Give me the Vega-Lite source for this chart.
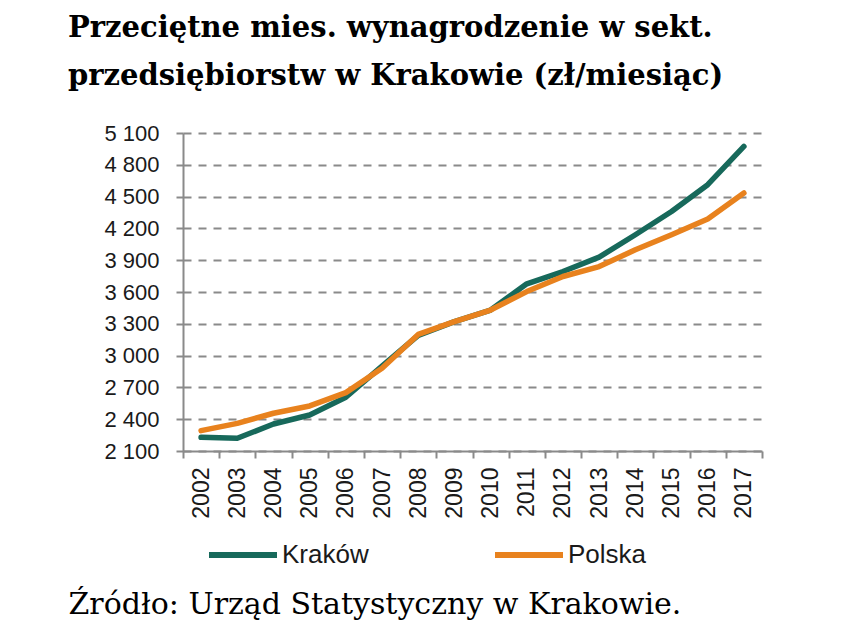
{
  "$schema": "https://vega.github.io/schema/vega-lite/v6.json",
  "width": 579,
  "height": 318,
  "autosize": {"type": "none"},
  "padding": {"left": 183, "top": 133, "right": 90, "bottom": 188},
  "background": "white",
  "title": {
    "text": ["Przeciętne mies. wynagrodzenie w sekt.", "przedsiębiorstw w Krakowie (zł/miesiąc)"],
    "anchor": "start",
    "frame": "group",
    "dx": -115,
    "offset": 31,
    "font": "DejaVu Serif",
    "fontWeight": "bold",
    "fontSize": 29,
    "lineHeight": 48,
    "color": "#000000"
  },
  "config": {"view": {"stroke": null}},
  "data": {
    "values": [
      {"year": "2002", "series": "Kraków", "value": 2229},
      {"year": "2003", "series": "Kraków", "value": 2220},
      {"year": "2004", "series": "Kraków", "value": 2355},
      {"year": "2005", "series": "Kraków", "value": 2440},
      {"year": "2006", "series": "Kraków", "value": 2607},
      {"year": "2007", "series": "Kraków", "value": 2900},
      {"year": "2008", "series": "Kraków", "value": 3190},
      {"year": "2009", "series": "Kraków", "value": 3320},
      {"year": "2010", "series": "Kraków", "value": 3430},
      {"year": "2011", "series": "Kraków", "value": 3677},
      {"year": "2012", "series": "Kraków", "value": 3793},
      {"year": "2013", "series": "Kraków", "value": 3929},
      {"year": "2014", "series": "Kraków", "value": 4140},
      {"year": "2015", "series": "Kraków", "value": 4360},
      {"year": "2016", "series": "Kraków", "value": 4612},
      {"year": "2017", "series": "Kraków", "value": 4973},
      {"year": "2002", "series": "Polska", "value": 2292},
      {"year": "2003", "series": "Polska", "value": 2361},
      {"year": "2004", "series": "Polska", "value": 2456},
      {"year": "2005", "series": "Polska", "value": 2525},
      {"year": "2006", "series": "Polska", "value": 2651},
      {"year": "2007", "series": "Polska", "value": 2880},
      {"year": "2008", "series": "Polska", "value": 3200},
      {"year": "2009", "series": "Polska", "value": 3320},
      {"year": "2010", "series": "Polska", "value": 3430},
      {"year": "2011", "series": "Polska", "value": 3604},
      {"year": "2012", "series": "Polska", "value": 3746},
      {"year": "2013", "series": "Polska", "value": 3840},
      {"year": "2014", "series": "Polska", "value": 3998},
      {"year": "2015", "series": "Polska", "value": 4140},
      {"year": "2016", "series": "Polska", "value": 4288},
      {"year": "2017", "series": "Polska", "value": 4534}
    ]
  },
  "mark": {"type": "line", "strokeWidth": 5.5, "strokeCap": "round", "strokeJoin": "round"},
  "encoding": {
    "x": {
      "field": "year",
      "type": "ordinal",
      "scale": {"paddingInner": 0, "paddingOuter": 0},
      "axis": {
        "title": "Źródło: Urząd Statystyczny w Krakowie.",
        "titleFont": "DejaVu Serif",
        "titleFontWeight": "normal",
        "titleFontSize": 30,
        "titleColor": "#000000",
        "titleAlign": "left",
        "titleBaseline": "alphabetic",
        "titleX": -115,
        "titleY": 162,
        "labelAngle": 270,
        "labelAlign": "right",
        "labelBaseline": "middle",
        "labelFont": "Liberation Sans",
        "labelFontSize": 23,
        "labelColor": "#1a1a1a",
        "labelPadding": 9,
        "tickBand": "extent",
        "tickSize": 7,
        "tickWidth": 2,
        "tickColor": "#8a8a8a",
        "domainColor": "#8a8a8a",
        "domainWidth": 2,
        "grid": false
      }
    },
    "y": {
      "field": "value",
      "type": "quantitative",
      "scale": {"domain": [2100, 5100], "nice": false, "zero": false},
      "axis": {
        "title": null,
        "values": [2100, 2400, 2700, 3000, 3300, 3600, 3900, 4200, 4500, 4800, 5100],
        "labelExpr": "replace(format(datum.value, ','), ',', ' ')",
        "labelFont": "Liberation Sans",
        "labelFontSize": 22,
        "labelColor": "#1a1a1a",
        "labelPadding": 17,
        "tickSize": 7,
        "tickWidth": 2,
        "tickColor": "#8a8a8a",
        "domainColor": "#8a8a8a",
        "domainWidth": 2,
        "grid": true,
        "gridColor": "#8a8a8a",
        "gridWidth": 2,
        "gridDash": [8, 7]
      }
    },
    "color": {
      "field": "series",
      "type": "nominal",
      "scale": {"domain": ["Kraków", "Polska"], "range": ["#17695b", "#e8821e"]},
      "legend": {
        "title": null,
        "orient": "none",
        "legendX": 23,
        "legendY": 385,
        "direction": "horizontal",
        "columns": 2,
        "columnPadding": 114,
        "symbolType": "stroke",
        "symbolSize": 4624,
        "symbolStrokeWidth": 6,
        "labelFont": "Liberation Sans",
        "labelFontSize": 26,
        "labelColor": "#1a1a1a",
        "labelOffset": 2
      }
    }
  }
}
